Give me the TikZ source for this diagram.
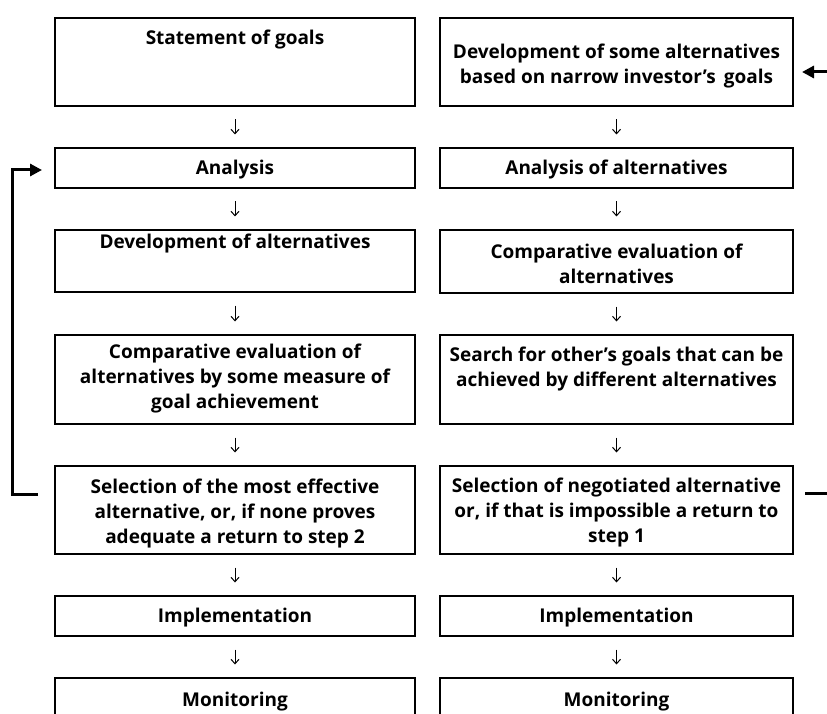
\documentclass[tikz,border=0pt]{standalone}
\usepackage{fontspec}
\setmainfont{Open Sans}
\usetikzlibrary{arrows.meta}
\begin{document}
\begin{tikzpicture}[x=1pt,y=-1pt,
  box/.style={draw, line width=2pt, rectangle, inner sep=0pt, minimum height=#1},
  lbox/.style={box=#1, minimum width=360pt},
  rbox/.style={box=#1, minimum width=353pt},
  txt/.style={font=\bfseries\fontsize{19}{25}\selectfont, align=center, inner sep=0pt},
  flow/.style={-{Straight Barb[length=4.5pt,width=8pt]}, line width=1pt, shorten <=12.5pt, shorten >=12.5pt},
  fb/.style={line width=3pt, -{Triangle[length=12pt,width=12pt]}}
]
\useasboundingbox (0,0) rectangle (827,714);
\clip (0,0) rectangle (827,714);

% left column: the classical planning sequence
\node[lbox=88] (L1) at (235,62)    {};
\node[lbox=40] (L2) at (235,168)   {};
\node[lbox=62] (L3) at (235,261)   {};
\node[lbox=89] (L4) at (235,379.5) {};
\node[lbox=88] (L5) at (235,510)   {};
\node[lbox=40] (L6) at (235,616)   {};
\node[lbox=40] (L7) at (235,698)   {};

\node[txt] (L1t) at (235,39.5)  {Statement of goals};
\node[txt] (L2t) at (235,169.5) {Analysis};
\node[txt] (L3t) at (235,243.5) {Development of alternatives};
\node[txt] (L4t) at (235,378.5) {Comparative evaluation of\\alternatives by some measure of\\goal achievement};
\node[txt] (L5t) at (235,513.5) {Selection of the most effective\\alternative, or, if none proves\\adequate a return to step 2};
\node[txt] (L6t) at (235,617.5) {Implementation};
\node[txt] (L7t) at (235,701.5) {Monitoring};

% right column: the negotiated planning sequence
\node[rbox=88] (R1) at (616.5,62)    {};
\node[rbox=40] (R2) at (616.5,168)   {};
\node[rbox=63] (R3) at (616.5,261.5) {};
\node[rbox=89] (R4) at (616.5,379.5) {};
\node[rbox=88] (R5) at (616.5,510)   {};
\node[rbox=40] (R6) at (616.5,616)   {};
\node[rbox=40] (R7) at (616.5,698)   {};

\node[txt] (R1t) at (616.5,66.5)  {Development of some alternatives\\based on narrow investor’s\, goals};
\node[txt] (R2t) at (616.5,169.5) {Analysis of alternatives};
\node[txt] (R3t) at (616.5,264)   {Comparative evaluation of\\alternatives};
\node[txt] (R4t) at (616.5,369)   {Search for other’s goals that can be\\achieved by different alternatives};
\node[txt] (R5t) at (616.5,513)   {Selection of negotiated alternative\\or, if that is impossible a return to\\step 1};
\node[txt] (R6t) at (616.5,617.5) {Implementation};
\node[txt] (R7t) at (616.5,701.5) {Monitoring};

% downward steps
\foreach \a/\b in {L1/L2,L2/L3,L3/L4,L4/L5,L5/L6,L6/L7,R1/R2,R2/R3,R3/R4,R4/R5,R5/R6,R6/R7}
  \draw[flow] (\a.south) -- (\b.north);

% feedback loops
\draw[fb] ([shift={(-16,-16)}]L5.west) -- ++(-26,0) |- ([shift={(-12,2)}]L2.west);
\draw[fb] ([shift={(11,-17)}]R5.east) -- ++(40,0) |- ([shift={(8,10)}]R1.east);
\end{tikzpicture}
\end{document}
